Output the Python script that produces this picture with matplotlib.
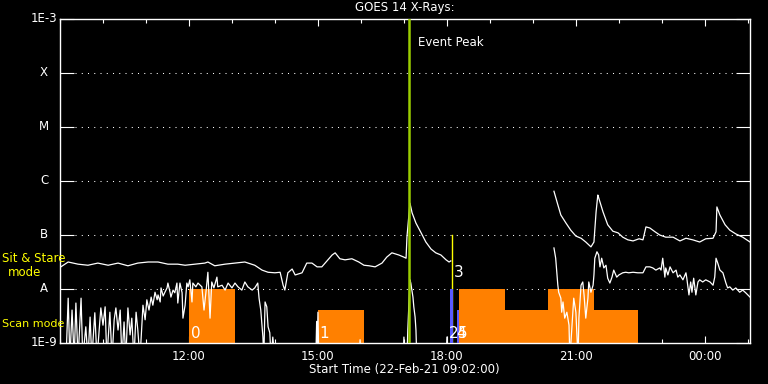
import numpy as np
import matplotlib
matplotlib.use("Agg")
import matplotlib.pyplot as plt
import matplotlib.transforms as mtransforms
from matplotlib.ticker import NullLocator, MultipleLocator

# GOES long channel (1-8 A): hours since 22-Feb-21 00:00, log10 flux (W/m^2)
FLOOR = -9.3
long_t = [9.00, 9.02, 9.19, 9.42, 9.65, 9.88, 10.12, 10.35, 10.58, 10.81,
          11.05, 11.28, 11.51, 11.74, 11.91, 12.14, 12.37, 12.44, 12.60, 12.84,
          13.07, 13.30, 13.53, 13.70, 13.84, 14.00, 14.12, 14.19, 14.23, 14.30,
          14.40, 14.47, 14.63, 14.74, 14.86, 14.98, 15.09, 15.21, 15.33, 15.40,
          15.51, 15.63, 15.79, 15.95, 16.07, 16.19, 16.33, 16.49, 16.60, 16.72,
          16.88, 17.00, 17.05, 17.07, 17.14, 17.19, 17.28, 17.40, 17.51, 17.63,
          17.74, 17.86, 17.98, 18.05, 18.09, np.nan,
          20.49, 20.58, 20.65, 20.77, 20.88, 21.00, 21.12, 21.23, 21.35, 21.42,
          21.47, 21.51, 21.53, 21.63, 21.74, 21.86, 21.98, 22.09, 22.21, 22.33,
          22.47, 22.56, 22.63, 22.72, 22.84, 22.95, 23.09, 23.26, 23.42, 23.56,
          23.72, 23.88, 24.02, 24.19, 24.26, 24.28, 24.35, 24.47, 24.58, 24.72,
          24.88, 25.05]
long_f = [-7.56, -7.59, -7.50, -7.54, -7.56, -7.52, -7.56, -7.52, -7.57, -7.52,
          -7.50, -7.50, -7.54, -7.54, -7.56, -7.54, -7.52, -7.50, -7.57, -7.54,
          -7.52, -7.50, -7.56, -7.65, -7.69, -7.70, -7.69, -7.93, -8.02, -7.70,
          -7.63, -7.74, -7.70, -7.52, -7.52, -7.59, -7.59, -7.48, -7.37, -7.33,
          -7.44, -7.46, -7.44, -7.50, -7.56, -7.57, -7.59, -7.52, -7.41, -7.33,
          -7.37, -7.41, -7.43, -7.04, -6.41, -6.59, -6.78, -6.96, -7.13, -7.26,
          -7.33, -7.37, -7.46, -7.50, -7.48, np.nan,
          -6.19, -6.44, -6.63, -6.78, -6.91, -7.02, -7.06, -7.13, -7.22, -7.13,
          -6.57, -6.26, -6.31, -6.57, -6.81, -6.93, -6.96, -7.04, -7.09, -7.11,
          -7.07, -7.09, -6.85, -6.87, -6.94, -7.00, -7.04, -7.04, -7.11, -7.06,
          -7.09, -7.13, -7.07, -7.06, -6.94, -6.48, -6.63, -6.81, -6.91, -6.98,
          -7.04, -7.13]

# GOES short channel (0.5-4 A)
short_t = [9.00, 9.14, 9.19, 9.23, 9.28, 9.33, 9.37, 9.42, 9.49, 9.53,
           9.60, 9.65, 9.70, 9.74, 9.81, 9.86, 9.91, 9.95, 10.00, 10.05,
           10.09, 10.16, 10.21, 10.26, 10.30, 10.35, 10.40, 10.44, 10.49, 10.53,
           10.58, 10.63, 10.67, 10.72, 10.77, 10.81, 10.86, 10.93, 10.98, 11.02,
           11.07, 11.12, 11.16, 11.21, 11.26, 11.28, 11.33, 11.35, 11.40, 11.44,
           11.49, 11.51, 11.56, 11.58, 11.63, 11.67, 11.72, 11.74, 11.79, 11.84,
           11.86, 11.91, 11.95, 11.98, 12.02, 12.07, 12.09, 12.16, 12.21, 12.30,
           12.35, 12.40, 12.44, 12.49, 12.53, 12.58, 12.65, 12.67, 12.77, 12.84,
           12.91, 13.00, 13.07, 13.14, 13.23, 13.30, 13.37, 13.47, 13.53, 13.60,
           13.63, 13.67, 13.72, 13.74, 13.77, 13.81, 13.84, 13.88, 13.91, 13.95,
           14.00, 14.95, 14.97, 14.98, 15.00, 15.02, 15.96, 15.98, 16.00, 16.98,
           17.00, 17.02, 17.07, 17.09, 17.14, 17.16, 17.21, 17.23, 17.26, 17.28,
           17.30, 17.98, 18.00, 18.02, np.nan, 20.49, 20.53, 20.58, 20.60, 20.65,
           20.67, 20.70, 20.74, 20.79, 20.84, 20.86, 20.91, 20.95, 21.00, 21.05,
           21.07, 21.12, 21.16, 21.19, 21.23, 21.28, 21.30, 21.35, 21.40, 21.42,
           21.44, 21.49, 21.53, 21.56, 21.60, 21.65, 21.70, 21.74, 21.79, 21.84,
           21.88, 21.95, 22.00, 22.09, 22.16, 22.23, 22.33, 22.44, 22.56, 22.63,
           22.72, 22.79, 22.86, 22.95, 22.98, 23.02, 23.07, 23.09, 23.14, 23.19,
           23.26, 23.33, 23.37, 23.42, 23.49, 23.56, 23.58, 23.63, 23.67, 23.70,
           23.74, 23.79, 23.84, 23.88, 23.95, 24.02, 24.12, 24.19, 24.23, 24.26,
           24.30, 24.35, 24.42, 24.49, 24.53, 24.58, 24.65, 24.72, 24.81, 24.88,
           24.95, 25.05]
short_f = [FLOOR, FLOOR, -8.17, FLOOR, -8.39, FLOOR, -8.26, FLOOR, -8.17, FLOOR,
           -8.70, FLOOR, -8.52, FLOOR, -8.44, FLOOR, -8.76, -8.35, -8.67, -8.33,
           FLOOR, -8.43, FLOOR, -8.57, -8.35, -8.76, -8.39, FLOOR, -8.61, FLOOR,
           -8.35, -8.85, -8.54, FLOOR, -8.43, -8.76, FLOOR, -8.30, -8.57, -8.20,
           -8.39, -8.15, -8.30, -8.06, -8.20, -8.11, -8.24, -7.98, -8.13, -8.06,
           -7.98, -7.89, -8.06, -8.15, -8.02, -8.07, -7.89, -8.26, -7.89, -8.07,
           -8.54, -8.30, -7.89, -7.96, -7.83, -8.24, -7.89, -7.96, -7.89, -7.96,
           -8.39, -8.02, -7.69, -8.54, -7.87, -7.98, -7.78, -7.96, -7.93, -8.02,
           -7.89, -7.98, -7.89, -7.96, -8.02, -7.87, -7.96, -8.02, -7.98, -7.89,
           -8.17, -8.39, -8.89, FLOOR, -8.24, -8.33, -8.70, -8.81, FLOOR, -8.89,
           FLOOR, FLOOR, -8.60, FLOOR, -8.43, FLOOR, FLOOR, -8.94, FLOOR, FLOOR,
           -8.89, FLOOR, FLOOR, -8.76, -7.83, -7.89, -8.15, -8.33, -8.52, -8.76,
           FLOOR, FLOOR, -8.89, FLOOR, np.nan, -7.24, -7.43, -7.93, -8.06, -8.17,
           -8.43, -8.24, -8.54, -8.43, -8.67, FLOOR, -8.67, -8.17, -8.43, FLOOR,
           -8.54, -7.93, -7.87, -8.11, -8.54, -8.17, -7.87, -8.06, -7.93, -7.74,
           -7.43, -7.31, -7.37, -7.59, -7.43, -7.61, -7.56, -7.80, -7.89, -7.78,
           -7.65, -7.78, -7.74, -7.70, -7.69, -7.70, -7.69, -7.70, -7.70, -7.59,
           -7.59, -7.61, -7.65, -7.61, -7.65, -7.43, -7.78, -7.61, -7.74, -7.59,
           -7.70, -7.65, -7.78, -7.74, -7.83, -7.70, -7.80, -8.11, -7.87, -8.06,
           -7.80, -8.11, -7.87, -7.83, -7.87, -7.83, -7.87, -7.93, -7.78, -7.43,
           -7.52, -7.65, -7.70, -7.89, -7.98, -7.96, -8.02, -7.98, -8.06, -8.02,
           -8.07, -8.15]

# observing mode blocks (scan mode), hours
scan_start = [12.00, 15.00, 18.28, 19.35, 20.35, 21.42]
scan_end = [13.07, 16.07, 19.35, 20.35, 21.42, 22.44]
scan_top = [1e-8, 4e-9, 1e-8, 4e-9, 1e-8, 4e-9]
scan_labels = ["0", "1"]

blue_start = [18.07, 18.23]
blue_end = [18.14, 18.28]
blue_top = [1e-8, 4e-9]

event_peak = 17.12
event3_t = 18.12
event3_top = 1e-7

levels = [1e-9, 1e-8, 1e-7, 1e-6, 1e-5, 1e-4, 1e-3]
level_names = ["1E-9", "A", "B", "C", "M", "X", "1E-3"]

fig = plt.figure(figsize=(7.68, 3.84), dpi=100, facecolor="black")
ax = fig.add_axes([60 / 768, 41 / 384, 690 / 768, 324 / 384])
ax.set_facecolor("black")
ax.set_yscale("log")
ax.set_ylim(1e-9, 1e-3)
ax.set_xlim(9.0, 25.05)

for lev in levels[1:-1]:
    ax.axhline(lev, xmin=15 / 690, xmax=676 / 690, color="white", lw=0.75,
               linestyle=(0, (1, 5)), zorder=1)

widths = np.array(scan_end) - np.array(scan_start)
ax.bar(scan_start, scan_top, width=widths, bottom=1e-12, align="edge",
       color="#ff8000", lw=0, zorder=2)
for s, lab in zip(scan_start, scan_labels):
    ax.text(s + 0.04, 1.5e-9, lab, color="white", fontsize=11,
            va="center", ha="left", zorder=6)

ax.plot([event3_t, event3_t], [1e-12, event3_top], color="#ffff00", lw=1.0, zorder=2.5)
ax.text(event3_t + 0.04, 2.0e-8, "3", color="white", fontsize=11,
        va="center", ha="left", zorder=6)

bw = np.array(blue_end) - np.array(blue_start)
ax.bar(blue_start, blue_top, width=bw, bottom=1e-12, align="edge",
       color="#5a5aff", lw=0, zorder=3)
ax.text(18.04, 1.5e-9, "2", color="white", fontsize=11, va="center", ha="left", zorder=6)
ax.text(18.22, 1.5e-9, "4", color="white", fontsize=11, va="center", ha="left", zorder=6)
ax.text(18.25, 1.5e-9, "5", color="white", fontsize=11, va="center", ha="left", zorder=6)

ax.plot(long_t, 10 ** np.array(long_f), color="white", lw=0.9, zorder=4)
ax.plot(short_t, 10 ** np.array(short_f), color="white", lw=0.9, zorder=4)

ax.axvline(event_peak, color="#9acd00", lw=1.8, zorder=5)
ax.text(event_peak + 0.2, 0.926, "Event Peak", color="white", fontsize=8.5,
        va="center", ha="left",
        transform=mtransforms.blended_transform_factory(ax.transData, ax.transAxes))

for sp in ax.spines.values():
    sp.set_color("white")
    sp.set_linewidth(1.0)

ax.set_xticks([12, 15, 18, 21, 24])
ax.set_xticklabels(["12:00", "15:00", "18:00", "21:00", "00:00"])
ax.xaxis.set_minor_locator(MultipleLocator(1))
ax.tick_params(axis="x", which="major", direction="in", length=5, width=0.8,
               top=True, bottom=True, colors="white", labelsize=8.5, pad=5)
ax.tick_params(axis="x", which="minor", direction="in", length=3, width=0.8,
               top=True, bottom=True, colors="white")
ax.set_yticks(levels)
ax.yaxis.set_minor_locator(NullLocator())
ax.tick_params(axis="y", which="major", direction="in", length=10, width=0.8,
               left=True, right=True, colors="white", labelleft=False)

trans = mtransforms.blended_transform_factory(ax.transAxes, ax.transData)
for lev, name in zip(levels, level_names):
    ax.text(-0.023, lev, name, color="white", fontsize=8.5, ha="center",
            va="center", transform=trans)

fig.text(2 / 768, 1 - 259 / 384, "Sit & Stare", color="#ffff00", fontsize=8.5,
         ha="left", va="center")
fig.text(25 / 768, 1 - 272 / 384, "mode", color="#ffff00", fontsize=8.5,
         ha="center", va="center")
fig.text(2 / 768, 1 - 324 / 384, "Scan mode", color="#ffff00", fontsize=8,
         ha="left", va="center")

fig.text(405 / 768, 1 - 8 / 384, "GOES 14 X-Rays:", color="white", fontsize=8.5,
         ha="center", va="center")
fig.text(404 / 768, 1 - 370 / 384, "Start Time (22-Feb-21 09:02:00)", color="white",
         fontsize=8.5, ha="center", va="center")

fig.savefig("out.png", dpi=100, facecolor="black")
